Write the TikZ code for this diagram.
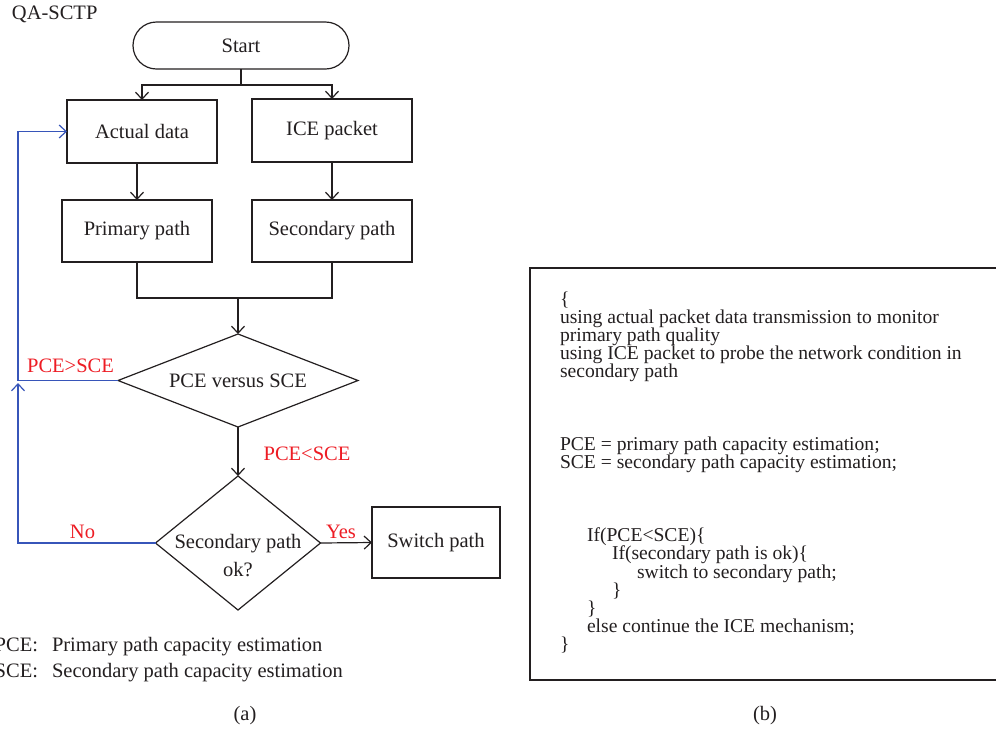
\documentclass[tikz,border=0pt]{standalone}
\usepackage{fontspec}
\setmainfont{Liberation Serif}
\usetikzlibrary{arrows.meta,shapes.geometric}
\definecolor{txt}{RGB}{35,31,32}
\definecolor{lblred}{RGB}{237,28,36}
\definecolor{loopblue}{RGB}{55,85,185}
\tikzset{
  every node/.style={text=txt, inner sep=0pt, outer sep=0pt},
  ftext/.style={font=\fontsize{20.5}{24}\selectfont},
  flowbox/.style={draw=txt, line width=1.2pt, ftext},
  startbox/.style={flowbox, rounded corners=23.5pt},
  decision/.style={draw=txt, line width=1.2pt, shape=diamond, aspect=1},
  tip/.style={-{Straight Barb[length=7pt,width=13pt,line width=1.2pt]}},
  plainline/.style={draw=txt, line width=1.2pt},
  conn/.style={plainline, tip},
  loopline/.style={draw=loopblue, line width=1.2pt},
  looparr/.style={loopline, tip},
  cond/.style={text=lblred, ftext, anchor=base},
  codeline/.style={anchor=base west, font=\fontsize{19.6}{22}\selectfont},
  legend/.style={font=\fontsize{20.5}{24}\selectfont},
  codebox/.style={draw=txt, line width=2.6pt}
}
\begin{document}
\begin{tikzpicture}[x=1pt,y=-1pt]
\useasboundingbox (0,0) rectangle (996,729);

% ---------- (a) flowchart ----------
\node[legend, anchor=base west] (title) at (12,19) {QA-SCTP};

\node[startbox, minimum width=216pt, minimum height=47pt] (start) at (241,45.5) {Start};
\node[flowbox, minimum width=150pt, minimum height=63pt] (actual) at (142,131.5) {Actual data};
\node[flowbox, minimum width=160pt, minimum height=63pt] (ice) at (332,130.5) {ICE packet};
\node[flowbox, minimum width=150pt, minimum height=62pt] (primary) at (137,231) {Primary path};
\node[flowbox, minimum width=160pt, minimum height=62pt] (secondary) at (332,231) {Secondary path};

\node[decision, minimum width=240pt, minimum height=93pt] (d1) at (238,380.5) {};
\node[ftext] (d1text) at (238,381) {PCE versus SCE};

\node[decision, minimum width=165pt, minimum height=134pt] (d2) at (238,543) {};
\node[ftext, anchor=base] (d2texta) at (238,548) {Secondary path};
\node[ftext, anchor=base] (d2textb) at (238,576) {ok?};

\node[flowbox, minimum width=128pt, minimum height=71pt] (switch) at (436,542.5) {Switch path};

% connectors
\coordinate (split) at (241,85);
\draw[conn] (start.south) -- (split) -| (actual.north);
\draw[conn] (split) -| (ice.north);
\draw[conn] (primary.north |- actual.south) -- (primary.north);
\draw[conn] (ice.south) -- (secondary.north);
\coordinate (merge) at (238,298);
\draw[plainline] (primary.south) |- (merge) -| (secondary.south);
\draw[conn] (merge) -- (d1.north);
\draw[conn] (d1.south) -- (d2.north);
\draw[conn] (d2.east) -- (switch.west);

% blue loop
\coordinate (lb) at (18,543);
\coordinate (lm) at (18,380.5);
\coordinate (ltip) at (18,383);
\draw[looparr] (d2.west) -- (lb) -- (ltip);
\draw[loopline] (d1.west) -- (lm);
\draw[looparr] (lm) |- (actual.west);

% condition labels
\node[cond] (gt) at (70.5,372) {PCE>SCE};
\node[cond] (lt) at (307,460) {PCE<SCE};
\node[cond] (no) at (82.5,538) {No};
\node[cond] (yes) at (341,538) {Yes};

% legend
\node[legend, anchor=base east] (pcek) at (38,651) {PCE:};
\node[legend, anchor=base west] (pcev) at (52,651) {Primary path capacity estimation};
\node[legend, anchor=base east] (scek) at (38,677) {SCE:};
\node[legend, anchor=base west] (scev) at (52,677) {Secondary path capacity estimation};

\node[legend, anchor=base] (capa) at (245,720) {(a)};

% ---------- (b) pseudo code ----------
\draw[codebox] (530,268) rectangle (1002,680);
\node[codeline] (c1) at (560,305) {\{};
\node[codeline] (c2) at (560,323.2) {using actual packet data transmission to monitor};
\node[codeline] (c3) at (560,341.4) {primary path quality};
\node[codeline] (c4) at (560,359.6) {using ICE packet to probe the network condition in};
\node[codeline] (c5) at (560,377.8) {secondary path};
\node[codeline] (c6) at (560,450.6) {PCE = primary path capacity estimation;};
\node[codeline] (c7) at (560,468.8) {SCE = secondary path capacity estimation;};
\node[codeline] (c8) at (587,541.6) {If(PCE<SCE)\{};
\node[codeline] (c9) at (612,559.8) {If(secondary path is ok)\{};
\node[codeline] (c10) at (637,578) {switch to secondary path;};
\node[codeline] (c11) at (612,596.2) {\}};
\node[codeline] (c12) at (587,614.4) {\}};
\node[codeline] (c13) at (587,632.6) {else continue the ICE mechanism;};
\node[codeline] (c14) at (560,650.8) {\}};

\node[legend, anchor=base] (capb) at (765,720) {(b)};
\end{tikzpicture}
\end{document}
